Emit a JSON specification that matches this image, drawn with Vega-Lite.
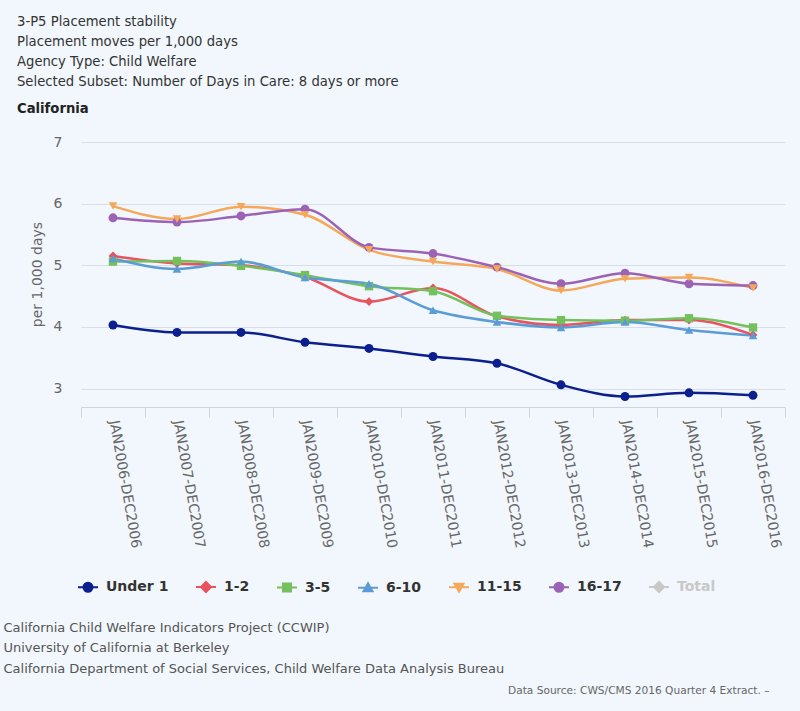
{
  "$schema": "https://vega.github.io/schema/vega-lite/v6.json",
  "autosize": {"type": "none"},
  "width": 704,
  "height": 265,
  "padding": {"left": 81, "top": 142, "right": 15, "bottom": 304},
  "background": "#f1f7fc",
  "config": {
    "view": {"stroke": null},
    "font": "DejaVu Sans"
  },
  "title": {
    "text": [
      "3-P5 Placement stability",
      "Placement moves per 1,000 days",
      "Agency Type: Child Welfare",
      "Selected Subset: Number of Days in Care: 8 days or more"
    ],
    "subtitle": "California",
    "anchor": "start",
    "frame": "group",
    "dx": -64,
    "offset": 19,
    "font": "DejaVu Sans",
    "fontSize": 13.2,
    "fontWeight": "normal",
    "color": "#333333",
    "lineHeight": 20,
    "subtitleFont": "DejaVu Sans",
    "subtitleFontSize": 13.2,
    "subtitleFontWeight": "bold",
    "subtitleColor": "#222222",
    "subtitlePadding": 14
  },
  "data": {
    "values": [
      {"period": "JAN2006-DEC2006", "group": "Under 1", "value": 4.03},
      {"period": "JAN2007-DEC2007", "group": "Under 1", "value": 3.91},
      {"period": "JAN2008-DEC2008", "group": "Under 1", "value": 3.91},
      {"period": "JAN2009-DEC2009", "group": "Under 1", "value": 3.75},
      {"period": "JAN2010-DEC2010", "group": "Under 1", "value": 3.65},
      {"period": "JAN2011-DEC2011", "group": "Under 1", "value": 3.52},
      {"period": "JAN2012-DEC2012", "group": "Under 1", "value": 3.41},
      {"period": "JAN2013-DEC2013", "group": "Under 1", "value": 3.06},
      {"period": "JAN2014-DEC2014", "group": "Under 1", "value": 2.87},
      {"period": "JAN2015-DEC2015", "group": "Under 1", "value": 2.93},
      {"period": "JAN2016-DEC2016", "group": "Under 1", "value": 2.89},
      {"period": "JAN2006-DEC2006", "group": "1-2", "value": 5.15},
      {"period": "JAN2007-DEC2007", "group": "1-2", "value": 5.03},
      {"period": "JAN2008-DEC2008", "group": "1-2", "value": 5.0},
      {"period": "JAN2009-DEC2009", "group": "1-2", "value": 4.81},
      {"period": "JAN2010-DEC2010", "group": "1-2", "value": 4.41},
      {"period": "JAN2011-DEC2011", "group": "1-2", "value": 4.63},
      {"period": "JAN2012-DEC2012", "group": "1-2", "value": 4.17},
      {"period": "JAN2013-DEC2013", "group": "1-2", "value": 4.03},
      {"period": "JAN2014-DEC2014", "group": "1-2", "value": 4.11},
      {"period": "JAN2015-DEC2015", "group": "1-2", "value": 4.11},
      {"period": "JAN2016-DEC2016", "group": "1-2", "value": 3.87},
      {"period": "JAN2006-DEC2006", "group": "3-5", "value": 5.06},
      {"period": "JAN2007-DEC2007", "group": "3-5", "value": 5.07},
      {"period": "JAN2008-DEC2008", "group": "3-5", "value": 4.99},
      {"period": "JAN2009-DEC2009", "group": "3-5", "value": 4.84},
      {"period": "JAN2010-DEC2010", "group": "3-5", "value": 4.66},
      {"period": "JAN2011-DEC2011", "group": "3-5", "value": 4.58},
      {"period": "JAN2012-DEC2012", "group": "3-5", "value": 4.18},
      {"period": "JAN2013-DEC2013", "group": "3-5", "value": 4.11},
      {"period": "JAN2014-DEC2014", "group": "3-5", "value": 4.1},
      {"period": "JAN2015-DEC2015", "group": "3-5", "value": 4.14},
      {"period": "JAN2016-DEC2016", "group": "3-5", "value": 3.99},
      {"period": "JAN2006-DEC2006", "group": "6-10", "value": 5.11},
      {"period": "JAN2007-DEC2007", "group": "6-10", "value": 4.94},
      {"period": "JAN2008-DEC2008", "group": "6-10", "value": 5.06},
      {"period": "JAN2009-DEC2009", "group": "6-10", "value": 4.8},
      {"period": "JAN2010-DEC2010", "group": "6-10", "value": 4.7},
      {"period": "JAN2011-DEC2011", "group": "6-10", "value": 4.27},
      {"period": "JAN2012-DEC2012", "group": "6-10", "value": 4.08},
      {"period": "JAN2013-DEC2013", "group": "6-10", "value": 3.99},
      {"period": "JAN2014-DEC2014", "group": "6-10", "value": 4.08},
      {"period": "JAN2015-DEC2015", "group": "6-10", "value": 3.95},
      {"period": "JAN2016-DEC2016", "group": "6-10", "value": 3.86},
      {"period": "JAN2006-DEC2006", "group": "11-15", "value": 5.96},
      {"period": "JAN2007-DEC2007", "group": "11-15", "value": 5.75},
      {"period": "JAN2008-DEC2008", "group": "11-15", "value": 5.95},
      {"period": "JAN2009-DEC2009", "group": "11-15", "value": 5.82},
      {"period": "JAN2010-DEC2010", "group": "11-15", "value": 5.25},
      {"period": "JAN2011-DEC2011", "group": "11-15", "value": 5.06},
      {"period": "JAN2012-DEC2012", "group": "11-15", "value": 4.94},
      {"period": "JAN2013-DEC2013", "group": "11-15", "value": 4.59},
      {"period": "JAN2014-DEC2014", "group": "11-15", "value": 4.78},
      {"period": "JAN2015-DEC2015", "group": "11-15", "value": 4.8},
      {"period": "JAN2016-DEC2016", "group": "11-15", "value": 4.63},
      {"period": "JAN2006-DEC2006", "group": "16-17", "value": 5.77},
      {"period": "JAN2007-DEC2007", "group": "16-17", "value": 5.7},
      {"period": "JAN2008-DEC2008", "group": "16-17", "value": 5.8},
      {"period": "JAN2009-DEC2009", "group": "16-17", "value": 5.91},
      {"period": "JAN2010-DEC2010", "group": "16-17", "value": 5.29},
      {"period": "JAN2011-DEC2011", "group": "16-17", "value": 5.19},
      {"period": "JAN2012-DEC2012", "group": "16-17", "value": 4.97},
      {"period": "JAN2013-DEC2013", "group": "16-17", "value": 4.7},
      {"period": "JAN2014-DEC2014", "group": "16-17", "value": 4.87},
      {"period": "JAN2015-DEC2015", "group": "16-17", "value": 4.7},
      {"period": "JAN2016-DEC2016", "group": "16-17", "value": 4.67}
    ]
  },
  "encoding": {
    "x": {
      "field": "period",
      "type": "nominal",
      "scale": {"type": "band", "paddingInner": 0, "paddingOuter": 0},
      "axis": {
        "title": [
          "California Child Welfare Indicators Project (CCWIP)",
          "University of California at Berkeley",
          "California Department of Social Services, Child Welfare Data Analysis Bureau"
        ],
        "titleAnchor": "start",
        "titleAlign": "left",
        "titleBaseline": "alphabetic",
        "titleX": -78,
        "titleY": 224,
        "titleLineHeight": 20.5,
        "titleFont": "DejaVu Sans",
        "titleFontSize": 13,
        "titleFontWeight": "normal",
        "titleColor": "#555555",
        "labelAngle": 80,
        "labelAlign": "left",
        "labelBaseline": "middle",
        "labelPadding": 3,
        "labelFont": "DejaVu Sans",
        "labelFontSize": 14,
        "labelColor": "#666666",
        "labelLimit": 220,
        "tickBand": "extent",
        "tickSize": 10,
        "tickColor": "#ccd6e0",
        "domainColor": "#ccd6e0",
        "grid": false
      }
    },
    "color": {
      "field": "group",
      "type": "nominal",
      "scale": {
        "domain": ["Under 1", "1-2", "3-5", "6-10", "11-15", "16-17", "Total"],
        "range": ["#0b1f8f", "#e8535e", "#74c05c", "#5c9cd6", "#f5a85a", "#9b62b5", "#c8c8c8"]
      },
      "legend": {
        "title": null,
        "orient": "none",
        "direction": "horizontal",
        "columns": 7,
        "legendX": -4,
        "legendY": 434,
        "padding": 0,
        "columnPadding": 23,
        "labelOffset": 7,
        "symbolSize": 400,
        "symbolStrokeWidth": 2,
        "labelFont": "DejaVu Sans",
        "labelFontSize": 14,
        "labelFontWeight": "bold",
        "labelColor": "#333333",
        "encode": {
          "symbols": {
            "update": {
              "shape": {"signal": "datum.value === 'Under 1' || datum.value === '16-17' ? 'M-1,0H1M-0.45,0A0.45,0.45,0,1,1,0.45,0A0.45,0.45,0,1,1,-0.45,0Z' : datum.value === '3-5' ? 'M-1,0H1M-0.4,-0.4H0.4V0.4H-0.4Z' : datum.value === '6-10' ? 'M-1,0H1M0,-0.45L0.45,0.35L-0.45,0.35Z' : datum.value === '11-15' ? 'M-1,0H1M0,0.45L0.45,-0.35L-0.45,-0.35Z' : 'M-1,0H1M0,-0.5L0.5,0L0,0.5L-0.5,0Z'"},
              "strokeWidth": {"value": 2},
              "opacity": {"value": 1}
            }
          },
          "labels": {
            "update": {
              "fill": {"signal": "datum.value === 'Total' ? '#c8c8c8' : '#333333'"}
            }
          }
        }
      }
    }
  },
  "layer": [
    {
      "mark": {"type": "line", "interpolate": "monotone", "strokeWidth": 2.5},
      "encoding": {
        "y": {
          "field": "value",
          "type": "quantitative",
          "scale": {"domain": [2.7, 7], "nice": false, "zero": false},
          "axis": {
            "title": "per 1,000 days",
            "titleFont": "DejaVu Sans",
            "titleFontSize": 14,
            "titleFontWeight": "normal",
            "titleColor": "#666666",
            "titleBaseline": "middle",
            "titleX": -44,
            "titleY": 132,
            "values": [3, 4, 5, 6, 7],
            "labelFont": "DejaVu Sans",
            "labelFontSize": 14,
            "labelColor": "#666666",
            "labelPadding": 19,
            "ticks": false,
            "tickSize": 0,
            "domain": false,
            "gridColor": "#d9dee5",
            "gridWidth": 1
          }
        }
      }
    },
    {
      "encoding": {
        "y": {
          "field": "value",
          "type": "quantitative",
          "scale": {"domain": [2.7, 7], "nice": false, "zero": false},
          "axis": {
            "orient": "right",
            "title": "Data Source: CWS/CMS 2016 Quarter 4 Extract. \u2013",
            "titleAngle": 0,
            "titleAlign": "right",
            "titleBaseline": "middle",
            "titleX": -16,
            "titleY": 548,
            "titleFont": "DejaVu Sans",
            "titleFontSize": 10.6,
            "titleFontWeight": "normal",
            "titleColor": "#666666",
            "labels": false,
            "ticks": false,
            "domain": false,
            "grid": false
          }
        }
      },
      "layer": [
        {
          "transform": [{"filter": {"field": "group", "oneOf": ["Under 1", "16-17"]}}],
          "mark": {"type": "point", "shape": "circle", "filled": true, "size": 80, "opacity": 1}
        },
        {
          "transform": [{"filter": {"field": "group", "equal": "1-2"}}],
          "mark": {"type": "point", "shape": "diamond", "filled": true, "size": 80, "opacity": 1}
        },
        {
          "transform": [{"filter": {"field": "group", "equal": "3-5"}}],
          "mark": {"type": "point", "shape": "square", "filled": true, "size": 70, "opacity": 1}
        },
        {
          "transform": [{"filter": {"field": "group", "equal": "6-10"}}],
          "mark": {"type": "point", "shape": "triangle-up", "filled": true, "size": 75, "opacity": 1}
        },
        {
          "transform": [{"filter": {"field": "group", "equal": "11-15"}}],
          "mark": {"type": "point", "shape": "triangle-down", "filled": true, "size": 75, "opacity": 1}
        }
      ]
    }
  ],
  "resolve": {"scale": {"y": "independent"}}
}
